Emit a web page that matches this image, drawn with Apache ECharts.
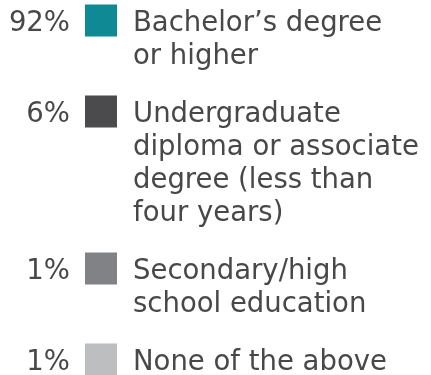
<!DOCTYPE html>
<html><head><meta charset="utf-8">
<script src="https://cdn.jsdelivr.net/npm/echarts@6/dist/echarts.min.js"></script>
<style>html,body{margin:0;padding:0;background:#fff}#c{width:431px;height:375px}</style>
</head><body><div id="c"></div><script>
// Data
const categories = [
  "Bachelor’s degree\nor higher",
  "Undergraduate\ndiploma or associate\ndegree (less than\nfour years)",
  "Secondary/high\nschool education",
  "None of the above"
];
const values = [92, 6, 1, 1];
const colors = ['#0f8a94', '#4b4b4d', '#808285', '#bcbec0'];

// Layout (vertical stacking derived from number of text lines)
const LINE = 33, GAP = 25, FIRST = 20.5;
let acc = FIRST;
const ypos = [];
categories.forEach(c => { ypos.push(acc); acc += c.split('\n').length * LINE + GAP; });

const font = { fontFamily: 'DejaVu Sans', fontSize: 27.5, lineHeight: 33, color: '#484848', opacity: 1 };

const chart = echarts.init(document.getElementById('c'), null, { renderer: 'canvas' });
chart.setOption({
  animation: false,
  backgroundColor: '#fff',
  grid: { left: 101, top: 0, right: 0, bottom: 0 },
  xAxis: { type: 'value', min: 0, max: 1, show: false },
  yAxis: { type: 'value', inverse: true, min: 0, max: 375, show: false },
  series: [
    {
      type: 'scatter',
      symbol: 'rect',
      symbolSize: 32,
      silent: true,
      itemStyle: { opacity: 1 },
      data: categories.map((c, i) => ({ value: [0, ypos[i]], name: c, itemStyle: { color: colors[i], opacity: 1 } })),
      label: Object.assign({ show: true, position: [48, 3], align: 'left', verticalAlign: 'top', formatter: '{b}' }, font)
    },
    {
      type: 'scatter',
      symbol: 'rect',
      symbolSize: 32,
      silent: true,
      itemStyle: { color: 'rgba(0,0,0,0)', opacity: 1 },
      data: values.map((v, i) => ({ value: [0, ypos[i]], name: v + '%' })),
      label: Object.assign({ show: true, position: [-15, 3], align: 'right', verticalAlign: 'top', formatter: '{b}' }, font)
    }
  ]
});
</script></body></html>
